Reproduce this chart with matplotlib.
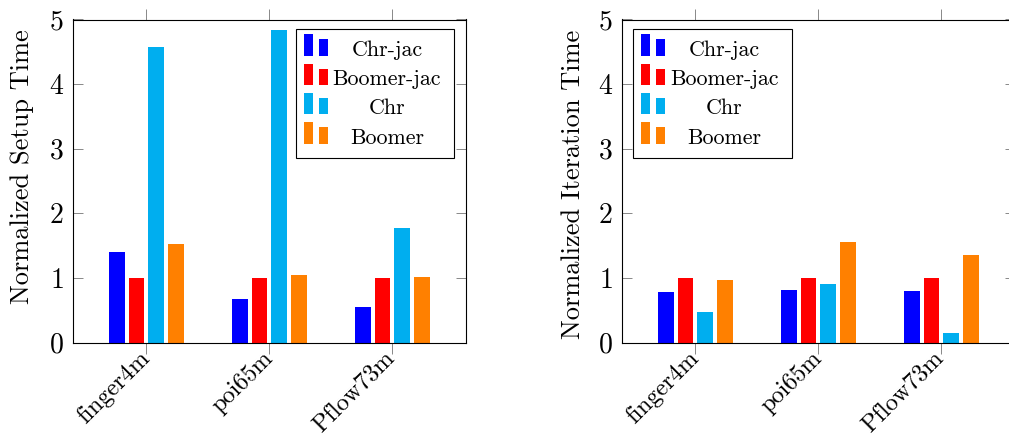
import matplotlib
matplotlib.use('Agg')
import numpy as np
import matplotlib.pyplot as plt
from matplotlib.patches import Rectangle

plt.rcParams['font.family'] = 'cmr10'
plt.rcParams['axes.formatter.use_mathtext'] = True
plt.rcParams['mathtext.fontset'] = 'cm'

matrices = ['finger4m', 'poi65m', 'Pflow73m']
methods = ['Chr-jac', 'Boomer-jac', 'Chr', 'Boomer']
colors = ['#0000ff', '#ff0000', '#00aeef', '#ff8000']

# normalized to Boomer-jac
setup_time = {
    'Chr-jac':    [1.40, 0.67, 0.55],
    'Boomer-jac': [1.00, 1.00, 1.00],
    'Chr':        [4.58, 4.83, 1.78],
    'Boomer':     [1.52, 1.04, 1.02],
}
iter_time = {
    'Chr-jac':    [0.78, 0.81, 0.79],
    'Boomer-jac': [1.00, 1.00, 1.00],
    'Chr':        [0.47, 0.90, 0.15],
    'Boomer':     [0.97, 1.56, 1.36],
}

TICK_FS = 20
XTICK_FS = 17.5
LABEL_FS = 19
LEG_FS = 15.8
W, H = 1009, 441
AX_W, AX_H = 393.3, 323.0


def px(x):
    return x / AX_W


def py(y):
    return y / AX_H


def draw_legend(ax, x0, y0, x1, y1, text_x):
    ax.add_patch(Rectangle((x0, y0), x1 - x0, y1 - y0, transform=ax.transAxes,
                           facecolor='white', edgecolor='black', lw=0.8,
                           zorder=5, clip_on=False))
    base = 0.888
    step = py(29.3)
    for i, (m, c) in enumerate(zip(methods, colors)):
        yb = base - i * step
        ax.add_patch(Rectangle((x0 + px(8), yb), px(8.7), py(21.4),
                               transform=ax.transAxes, color=c, lw=0, zorder=6))
        ax.add_patch(Rectangle((x0 + px(23.3), yb), px(8.7), py(16.3),
                               transform=ax.transAxes, color=c, lw=0, zorder=6))
        ax.text(text_x, yb, m, transform=ax.transAxes, ha='center',
                va='baseline', fontsize=LEG_FS, zorder=7)


def bar_panel(ax, data, ylabel):
    x = np.arange(len(matrices))
    width = 0.128
    step = 0.16
    for i, (m, c) in enumerate(zip(methods, colors)):
        ax.bar(x + (i - 1.5) * step, data[m], width, color=c, lw=0, zorder=2)
    ax.set_xlim(-0.6, 2.6)
    ax.set_ylim(0, 5)
    ax.set_yticks(range(6))
    ax.set_xticks(x)
    ax.set_xticklabels(matrices, rotation=45, ha='right', va='center',
                       rotation_mode='anchor', fontsize=XTICK_FS)
    ax.tick_params(axis='x', direction='out', top=True, bottom=True,
                   length=7.7, width=0.7, color='#888888', pad=1.5)
    ax.tick_params(axis='y', direction='in', left=True, right=True,
                   length=7.2, width=0.7, color='#888888', pad=6.5,
                   labelsize=TICK_FS)
    for s in ax.spines.values():
        s.set_linewidth(0.8)
    ax.set_ylabel(ylabel, fontsize=LABEL_FS)
    ax.yaxis.label.set_va('center')


fig = plt.figure(figsize=(W / 100, H / 100), dpi=100)
ax1 = fig.add_axes([72.7 / W, (H - 342.5) / H, AX_W / W, AX_H / H])
ax2 = fig.add_axes([621.7 / W, (H - 342.5) / H, AX_W / W, AX_H / H])

bar_panel(ax1, setup_time, 'Normalized Setup Time')
ax1.yaxis.set_label_coords(-0.129, 0.546)
draw_legend(ax1, 0.568, 0.571, 0.970, 0.970, 0.799)

bar_panel(ax2, iter_time, 'Normalized Iteration Time')
ax2.yaxis.set_label_coords(-0.124, 0.49)
ax2.spines['right'].set_visible(False)  # runs past the figure edge
draw_legend(ax2, 0.029, 0.571, 0.433, 0.970, 0.261)

fig.savefig('out.png', dpi=100)
